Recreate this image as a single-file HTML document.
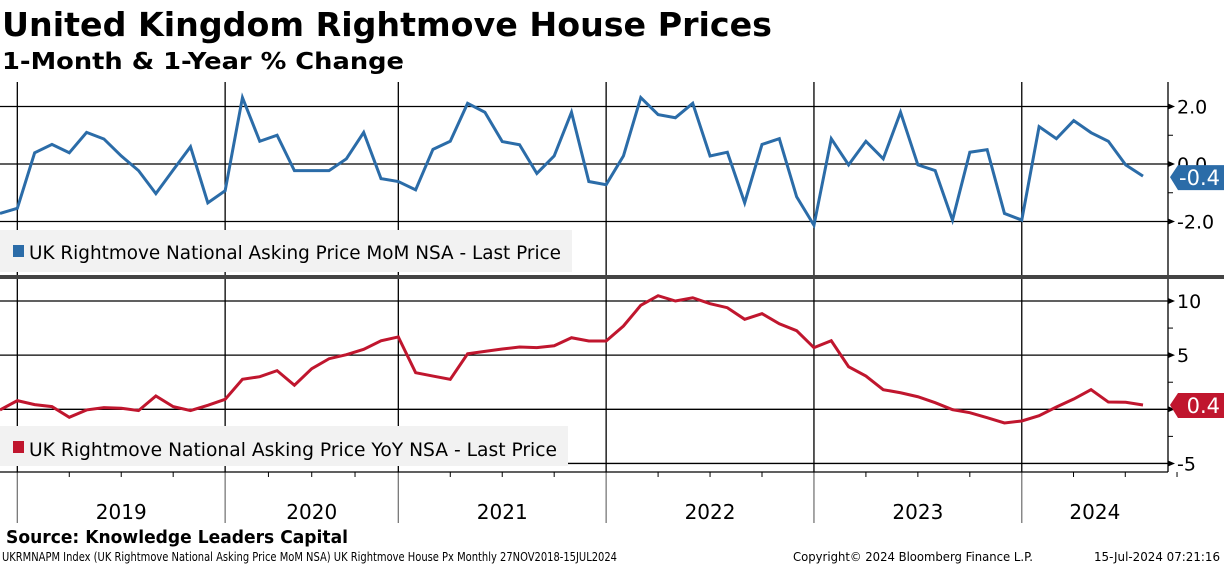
<!DOCTYPE html>
<html><head><meta charset="utf-8"><style>
html,body{margin:0;padding:0;background:#fff;}
svg{display:block;font-family:"DejaVu Sans","Liberation Sans",sans-serif;}
</style></head><body>
<svg id="chart" width="1224" height="566" viewBox="0 0 1224 566" xmlns="http://www.w3.org/2000/svg">
<text x="2" y="36" font-size="33" font-weight="bold" textLength="770" lengthAdjust="spacingAndGlyphs">United Kingdom Rightmove House Prices</text>
<text x="2" y="69" font-size="23" font-weight="bold" textLength="402" lengthAdjust="spacingAndGlyphs">1-Month &amp; 1-Year % Change</text>
<g id="grid"></g>
<rect x="0" y="230" width="572" height="42" fill="#f2f2f2"/>
<rect x="0" y="426" width="568" height="40" fill="#f2f2f2"/>
<g id="series"></g>
<g id="legend">
<rect x="13" y="245" width="11" height="12" fill="#2b6ca8"/>
<text x="29" y="259" font-size="19" textLength="532" lengthAdjust="spacingAndGlyphs">UK Rightmove National Asking Price MoM NSA - Last Price</text>
<rect x="13" y="441" width="11" height="12" fill="#c0162e"/>
<text x="29" y="456" font-size="19" textLength="528" lengthAdjust="spacingAndGlyphs">UK Rightmove National Asking Price YoY NSA - Last Price</text>
</g>
<rect x="0" y="275" width="1224" height="4" fill="#444"/>
<text x="6" y="543" font-size="18" font-weight="bold" textLength="342" lengthAdjust="spacingAndGlyphs">Source: Knowledge Leaders Capital</text>
<text x="2" y="561" font-size="12" textLength="615" lengthAdjust="spacingAndGlyphs">UKRMNAPM Index (UK Rightmove National Asking Price MoM NSA) UK Rightmove House Px  Monthly 27NOV2018-15JUL2024</text>
<text x="793" y="561" font-size="12" textLength="240" lengthAdjust="spacingAndGlyphs">Copyright© 2024 Bloomberg Finance L.P.</text>
<text x="1094" y="561" font-size="12" textLength="126" lengthAdjust="spacingAndGlyphs">15-Jul-2024 07:21:16</text>
</svg>
<script>
const mom=[-1.72,-1.54,0.39,0.68,0.39,1.10,0.87,0.28,-0.23,-1.03,-0.21,0.60,-1.35,-0.93,2.31,0.79,1.0,-0.23,-0.23,-0.23,0.18,1.10,-0.51,-0.61,-0.90,0.51,0.79,2.11,1.80,0.78,0.67,-0.33,0.28,1.80,-0.61,-0.72,0.28,2.31,1.72,1.61,2.11,0.28,0.41,-1.35,0.68,0.88,-1.14,-2.13,0.88,-0.03,0.79,0.18,1.80,-0.03,-0.23,-1.95,0.41,0.50,-1.72,-1.95,1.30,0.88,1.51,1.09,0.79,-0.03,-0.42];
const yoy=[-0.06,0.8,0.43,0.25,-0.74,-0.06,0.15,0.1,-0.12,1.23,0.25,-0.12,0.37,0.92,2.77,3.01,3.57,2.22,3.75,4.67,5.04,5.54,6.33,6.68,3.38,3.07,2.77,5.13,5.35,5.57,5.75,5.69,5.87,6.61,6.31,6.31,7.69,9.6,10.49,10.0,10.3,9.75,9.38,8.31,8.83,7.9,7.26,5.69,6.33,3.93,3.07,1.81,1.53,1.16,0.61,-0.03,-0.31,-0.77,-1.26,-1.08,-0.59,0.21,0.95,1.81,0.67,0.65,0.4];
const years=["2019","2020","2021","2022","2023","2024"];
const yearStartIdx=[1,13,23,35,47,59];
const topTicks=[2,0,-2];
const topTickLabels=["2.0","0.0","-2.0"];
const topMinor=[1,-1];
const botTicks=[10,5,0,-5];
const botTickLabels=["10","5","0","-5"];
const botMinor=[7.5,2.5,-2.5];
const lastMomLabel="-0.4", lastYoyLabel="0.4";

const NS="http://www.w3.org/2000/svg";
const STEP=1143/66, AXR=1168;
const xS=i=>i*STEP;
const yTop=v=>164-v*28.75;
const yBot=v=>409.3-v*10.83;
function mk(parent,tag,attrs){const e=document.createElementNS(NS,tag);for(const k in attrs)e.setAttribute(k,attrs[k]);parent.appendChild(e);return e;}
const grid=document.getElementById('grid'), ser=document.getElementById('series'), svg=document.getElementById('chart');

// vertical year gridlines
yearStartIdx.forEach((ix,k)=>{
  const x=xS(ix);
  let l=mk(grid,'line',{x1:x,x2:x,y1:82,y2:472,stroke:'#000','stroke-width':1.3});
  
  
  let l2=mk(grid,'line',{x1:x,x2:x,y1:472,y2:523,stroke:'#777','stroke-width':1.3});
  
  
  const xe = k<years.length-1 ? xS(yearStartIdx[k+1]) : x+207;
  for(let q=1;q<4;q++){const tx=x+(xe-x)*q/4;
    let t=mk(grid,'line',{x1:tx,x2:tx,y1:472,y2:477,stroke:'#000','stroke-width':1});
    
    }
  const cx = k<years.length-1 ? (x+xe)/2 : (x+AXR)/2;
  let tl=mk(grid,'text',{x:cx,y:519,'font-size':20,'text-anchor':'middle'});
  tl.textContent=years[k];
  
  
});
// top horizontal gridlines & ticks
topTicks.forEach((v,k)=>{const y=yTop(v);
  let l=mk(grid,'line',{x1:0,x2:AXR,y1:y,y2:y,stroke:'#000','stroke-width':1.3});
  
  
  let a=mk(grid,'path',{d:`M${AXR},${y-3} L${AXR+7},${y} L${AXR},${y+3}Z`,fill:'#000'});
  
  
  let t=mk(grid,'text',{x:1177,y:y+7,'font-size':19});t.textContent=topTickLabels[k];
  
  
});
topMinor.forEach(v=>{const y=yTop(v);let l=mk(grid,'line',{x1:AXR,x2:AXR+5,y1:y,y2:y,stroke:'#000'});
  
  });
botTicks.forEach((v,k)=>{const y=yBot(v);
  let l=mk(grid,'line',{x1:0,x2:AXR,y1:y,y2:y,stroke:'#000','stroke-width':1.3});
  
  
  let a=mk(grid,'path',{d:`M${AXR},${y-3} L${AXR+7},${y} L${AXR},${y+3}Z`,fill:'#000'});
  
  
  let t=mk(grid,'text',{x:1177,y:y+7,'font-size':19});t.textContent=botTickLabels[k];
  
  
});
botMinor.forEach(v=>{const y=yBot(v);let l=mk(grid,'line',{x1:AXR,x2:AXR+5,y1:y,y2:y,stroke:'#000'});
  
  });
let ax=mk(grid,'line',{x1:AXR,x2:AXR,y1:82,y2:472,stroke:'#000','stroke-width':1.3});


let bx=mk(grid,'line',{x1:0,x2:AXR,y1:472,y2:472,stroke:'#000','stroke-width':1.3});



// series
let p1=mk(ser,'polyline',{points:mom.map((v,i)=>xS(i)+','+yTop(v)).join(' '),fill:'none',stroke:'#2b6ca8','stroke-width':3,'stroke-linejoin':'miter'});


let p2=mk(ser,'polyline',{points:yoy.map((v,i)=>xS(i)+','+yBot(v)).join(' '),fill:'none',stroke:'#c0162e','stroke-width':3});



// last value labels
function badge(y,color,label,name){
  const g=mk(svg,'g',{});
  
  
  mk(g,'path',{d:`M1170,${y} L1178,${y-12} L1224,${y-12} L1224,${y+13} L1178,${y+13}Z`,fill:color});
  const t=mk(g,'text',{x:1220,y:y+8,'font-size':21,fill:'#fff','text-anchor':'end'});t.textContent=label;
}
badge(yTop(mom[mom.length-1])+1,'#2b6ca8',lastMomLabel,'mom-last-value-badge');
badge(yBot(yoy[yoy.length-1]),'#c0162e',lastYoyLabel,'yoy-last-value-badge');
</script>
</body></html>
